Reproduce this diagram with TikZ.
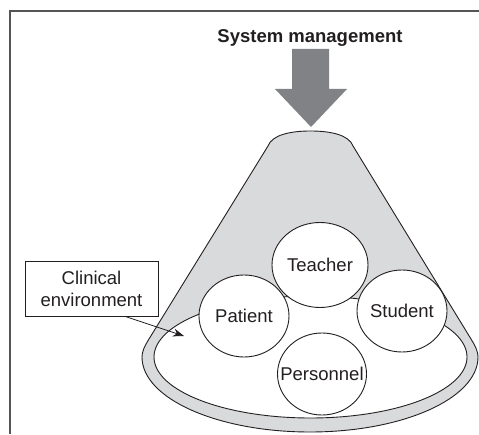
\documentclass[tikz,border=0pt]{standalone}
\usepackage{fontspec}
\setmainfont{Liberation Sans}
\usetikzlibrary{shapes.geometric,arrows.meta,calc}
\definecolor{ink}{HTML}{231F20}
\definecolor{arrowgray}{HTML}{808285}
\definecolor{conegray}{HTML}{D9DADC}
\definecolor{framegray}{HTML}{555555}
\tikzset{
  txt/.style={font=\fontsize{18.5}{22}\selectfont, text=ink},
  bubble/.style={draw=ink, fill=white, ellipse, inner sep=0pt, line width=0.9pt,
     label={[txt]center:#1}},
  outline/.style={draw=ink, line width=0.9pt},
}
\begin{document}
\begin{tikzpicture}[x=1pt,y=1pt]
\useasboundingbox (0,0) rectangle (479,434);
% frame
\coordinate (ftl) at (10,423);
\coordinate (ftr) at (479,423);
\coordinate (fbl) at (10,0);
\draw[framegray, line width=1.4pt] (fbl) -- (ftl) -- (ftr);
% title
\node[txt, font=\fontsize{18.5}{22}\selectfont\bfseries, anchor=base] (title) at (310,391) {System management};
% big arrow
\fill[arrowgray] (292,385) -- (329,385) -- (329,345) -- (347,345) -- (311,307) -- (275,345) -- (292,345) -- cycle;
% cone
\path[outline, fill=conegray] (268,288) .. controls (272,299) and (290,303) .. (310.5,303)
  .. controls (331,303) and (349,299) .. (353,288)
  -- (471,95) .. controls (476,87) and (478,82) .. (478,77)
  arc[start angle=0, end angle=-180, x radius=168, y radius=75]
  .. controls (142,82) and (144,87) .. (149,95) -- cycle;
% clinical environment
\draw[outline, fill=white] (310.5,77) ellipse[x radius=156.5, y radius=61];
% bubbles
\node[bubble=Teacher, minimum width=96pt, minimum height=85pt] (teacher) at (320,169) {};
\node[bubble=Patient, minimum width=90pt, minimum height=82pt] (patient) at (244,118) {};
\node[bubble=Student, minimum width=90pt, minimum height=82pt] (student) at (402,123) {};
\node[bubble=Personnel, minimum width=89pt, minimum height=82pt] (personnel) at (322,60) {};
% label box
\node[txt, draw=ink, line width=0.8pt, fill=white, minimum width=133pt, minimum height=55pt, align=center, inner sep=0pt] (clin) at (91.5,145.5) {Clinical\\environment};
\coordinate (envtip) at (184,98);
\draw[ink, line width=0.8pt, -{Stealth[length=11pt, width=8pt]}] ([xshift=33.5pt]clin.south) -- (envtip);
\end{tikzpicture}
\end{document}
